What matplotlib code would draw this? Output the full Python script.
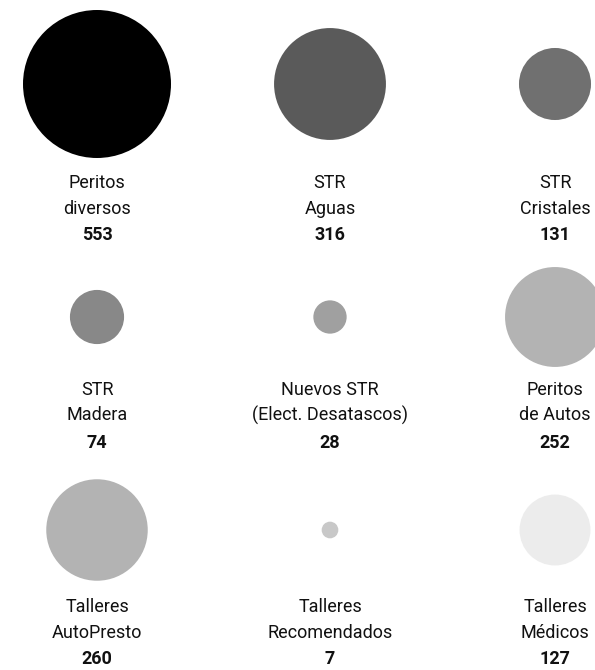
import matplotlib
matplotlib.use("Agg")
import matplotlib.pyplot as plt
from matplotlib.patches import Circle
import numpy as np

labels = ["Peritos\ndiversos", "STR\nAguas", "STR\nCristales",
          "STR\nMadera", "Nuevos STR\n(Elect. Desatascos)", "Peritos\nde Autos",
          "Talleres\nAutoPresto", "Talleres\nRecomendados", "Talleres\nMédicos"]
values = [553, 316, 131, 74, 28, 252, 260, 7, 127]
colors = ["#000000", "#5a5a5a", "#707070",
          "#888888", "#a0a0a0", "#b3b3b3",
          "#b3b3b3", "#c8c8c8", "#ececec"]

W, H = 595, 670
fig = plt.figure(figsize=(W / 100, H / 100), dpi=100)
ax = fig.add_axes([0, 0, 1, 1])
ax.set_xlim(0, W)
ax.set_ylim(H, 0)
ax.set_aspect("equal")
ax.axis("off")

col_x = [97, 330, 555]
row_y = [84, 317, 530]
text_y = [[183, 209, 235], [390, 415, 443], [607, 633, 659]]
k = 74 / np.sqrt(max(values))
font = "Roboto"

for i, (lab, v, c) in enumerate(zip(labels, values, colors)):
    cx = col_x[i % 3]
    r = i // 3
    cy = row_y[r]
    ax.add_patch(Circle((cx, cy), k * np.sqrt(v), facecolor=c, edgecolor="none"))
    l1, l2 = lab.split("\n")
    ax.text(cx, text_y[r][0], l1, ha="center", va="center", fontsize=13,
            family=font, color="#111111")
    ax.text(cx, text_y[r][1], l2, ha="center", va="center", fontsize=13,
            family=font, color="#111111")
    ax.text(cx, text_y[r][2], str(v), ha="center", va="center", fontsize=13,
            family=font, fontweight="bold", color="#111111")

fig.savefig("out.png", dpi=100)
